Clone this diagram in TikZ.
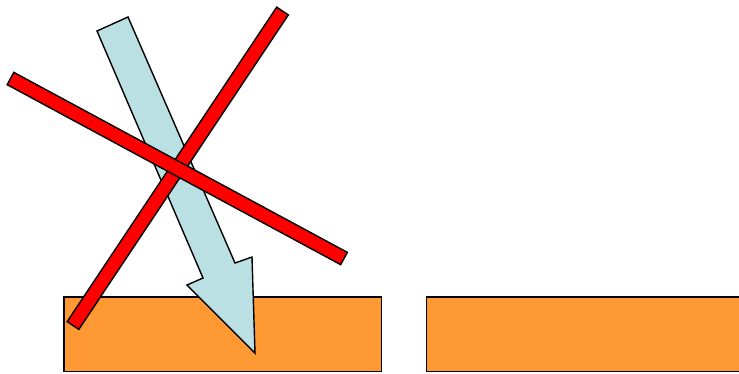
\documentclass[tikz,border=0pt]{standalone}
\usetikzlibrary{calc}
\definecolor{slab}{RGB}{255,153,51}
\definecolor{ray}{RGB}{187,224,227}
\tikzset{%
  slabbox/.style={draw=black, line width=0.8pt, fill=slab},
  raybox/.style={draw=black, line width=0.8pt, fill=ray, line join=miter},
  redbar/.style={draw=black, line width=0.8pt, fill=red},
}

\begin{document}
\begin{tikzpicture}[x=0.02cm, y=-0.02cm]
    \useasboundingbox (0,0) rectangle (739,373);

    %the two slabs
    \draw[slabbox] (64,297) rectangle (381.5,371.5);
    \draw[slabbox] (426.5,297) rectangle (750,371.5);

    %the light blue arrow
    \coordinate (T1) at (97,31);
    \coordinate (T2) at (128,17);
    \coordinate (R1) at (235,263);
    \coordinate (R2) at (252,257);
    \coordinate (Tip) at (255,353);
    \coordinate (L2) at (187,285);
    \coordinate (L1) at (203,278);
    \draw[raybox] (T1) -- (T2) -- (R1) -- (R2) -- (Tip) -- (L2) -- (L1) -- cycle;

    %crossing bars
    \coordinate (A1) at (282.5,11);
    \coordinate (A2) at (73,325.5);
    \coordinate (B1) at (10.5,78.5);
    \coordinate (B2) at (344,258.5);
    \draw[redbar] ($(A1)!0.14cm!90:(A2)$) -- ($(A1)!0.14cm!-90:(A2)$)
        -- ($(A2)!0.14cm!90:(A1)$) -- ($(A2)!0.14cm!-90:(A1)$) -- cycle;
    \draw[redbar] ($(B1)!0.14cm!90:(B2)$) -- ($(B1)!0.14cm!-90:(B2)$)
        -- ($(B2)!0.14cm!90:(B1)$) -- ($(B2)!0.14cm!-90:(B1)$) -- cycle;

\end{tikzpicture}
\end{document}
